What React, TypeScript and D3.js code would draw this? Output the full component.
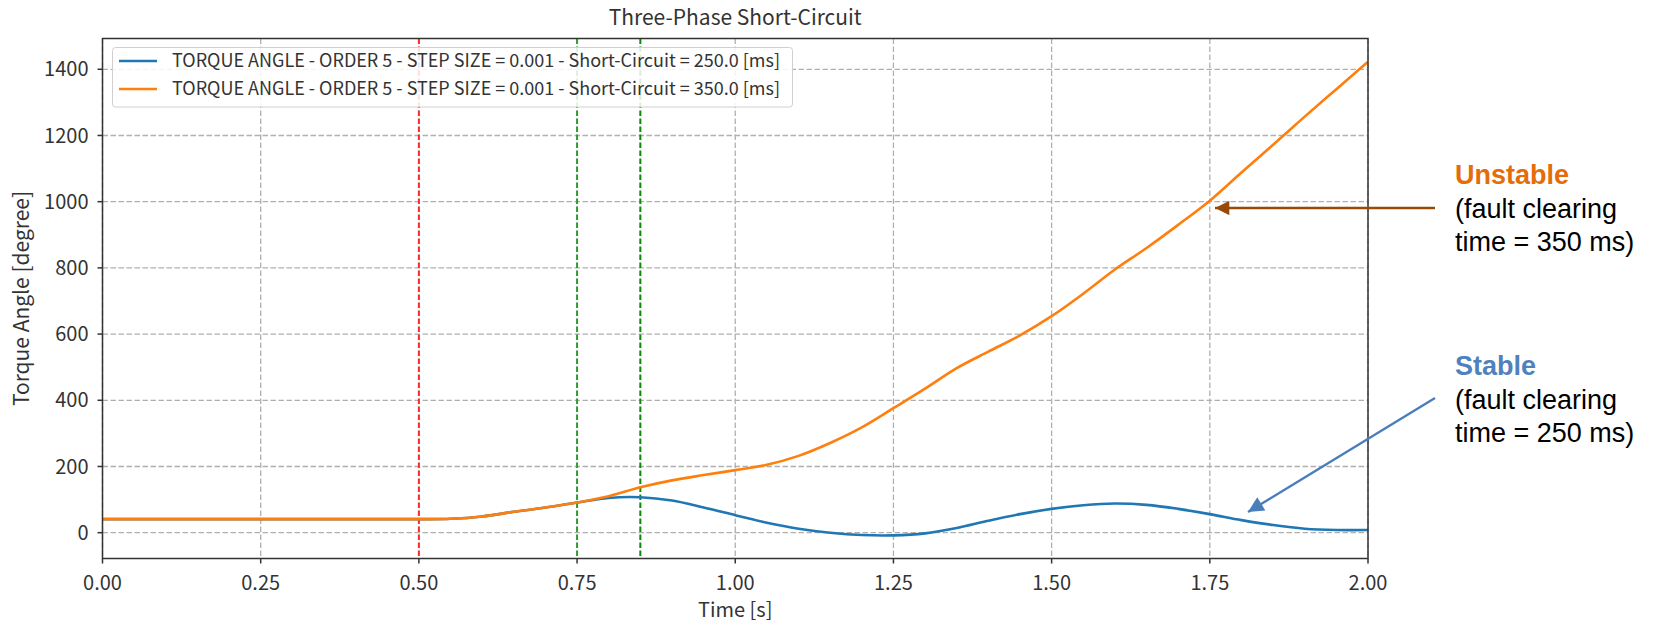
import React from "react";
import * as d3 from "d3";

const timeStable = [0, 0.25, 0.5, 0.55, 0.6, 0.65, 0.7, 0.75, 0.8, 0.85, 0.9, 0.95, 1.0, 1.05, 1.1, 1.15, 1.2, 1.25, 1.3, 1.35, 1.4, 1.45, 1.5, 1.55, 1.6, 1.65, 1.7, 1.75, 1.8, 1.85, 1.9, 1.95, 2.0];
const angleStable = [41, 41, 41, 42, 49, 63, 76, 91, 105, 107, 97, 76, 53, 30, 12, 0, -7, -8, -2, 14, 36, 56, 72, 83, 88, 84, 72, 56, 38, 23, 12, 8, 8];

const timeUnstable = [0, 0.25, 0.5, 0.55, 0.6, 0.65, 0.7, 0.75, 0.8, 0.85, 0.9, 0.95, 1.0, 1.05, 1.1, 1.15, 1.2, 1.25, 1.3, 1.35, 1.4, 1.45, 1.5, 1.55, 1.6, 1.65, 1.7, 1.75, 1.8, 1.85, 1.9, 1.95, 2.0];
const angleUnstable = [41, 41, 41, 42, 49, 63, 76, 91, 110, 137, 158, 174, 189, 205, 232, 271, 318, 376, 435, 497, 547, 596, 654, 722, 795, 860, 930, 1003, 1088, 1172, 1257, 1340, 1423];

const xTicks = [0, 0.25, 0.5, 0.75, 1.0, 1.25, 1.5, 1.75, 2.0];
const yTicks = [0, 200, 400, 600, 800, 1000, 1200, 1400];
const eventLines = [
  { t: 0.5, color: "#ff2a2a" },
  { t: 0.75, color: "#2ca02c" },
  { t: 0.85, color: "#0a8a0a" },
];
const legendLabels = [
  "TORQUE ANGLE - ORDER 5 - STEP SIZE = 0.001 - Short-Circuit = 250.0 [ms]",
  "TORQUE ANGLE - ORDER 5 - STEP SIZE = 0.001 - Short-Circuit = 350.0 [ms]",
];
const seriesColors = ["#1f77b4", "#ff7f0e"];

const W = 1654;
const H = 626;
const L = 102.5;
const R = 1368;
const T = 38.5;
const B = 558.5;
const FONT = "'Noto Sans CJK KR', 'Noto Sans', sans-serif";
const ARIAL = "'Liberation Sans', Arial, sans-serif";

export default function App() {
  const x = d3.scaleLinear().domain([0, 2]).range([L, R]);
  const y = d3.scaleLinear().domain([-78, 1493]).range([B, T]);
  const line = d3
    .line<[number, number]>()
    .x((d) => x(d[0]))
    .y((d) => y(d[1]))
    .curve(d3.curveCatmullRom.alpha(0.5));
  const stable = line(timeStable.map((t, i) => [t, angleStable[i]] as [number, number])) || "";
  const unstable = line(timeUnstable.map((t, i) => [t, angleUnstable[i]] as [number, number])) || "";

  return (
    <svg width={W} height={H} style={{ position: "absolute", left: 0, top: 0, background: "#fff" }}>
      <defs>
        <clipPath id="plot">
          <rect x={L} y={T} width={R - L} height={B - T} />
        </clipPath>
        <marker id="arrBrown" viewBox="0 0 10 10" refX="10" refY="5" markerWidth="7" markerHeight="5.5" orient="auto" markerUnits="strokeWidth">
          <path d="M0,0 L10,5 L0,10 z" fill="#984807" />
        </marker>
        <marker id="arrBlue" viewBox="0 0 10 10" refX="10" refY="5" markerWidth="8" markerHeight="6.5" orient="auto" markerUnits="strokeWidth">
          <path d="M0,0 L10,5 L0,10 z" fill="#4a7ebb" />
        </marker>
      </defs>
      <rect x={0} y={0} width={W} height={H} fill="#fff" />
      <g stroke="#b0b0b0" strokeWidth={1.3} strokeDasharray="5.5,2.5">
        {xTicks.map((t) => (
          <line key={"gx" + t} x1={x(t)} x2={x(t)} y1={T} y2={B} />
        ))}
        {yTicks.map((v) => (
          <line key={"gy" + v} x1={L} x2={R} y1={y(v)} y2={y(v)} />
        ))}
      </g>
      <g strokeWidth={2} strokeDasharray="5.5,2.5">
        {eventLines.map((e) => (
          <line key={"ev" + e.t} x1={x(e.t)} x2={x(e.t)} y1={T} y2={B} stroke={e.color} />
        ))}
      </g>
      <g clipPath="url(#plot)" fill="none" strokeWidth={2.6} strokeLinejoin="round">
        <path d={stable} stroke={seriesColors[0]} />
        <path d={unstable} stroke={seriesColors[1]} />
      </g>
      <rect x={L} y={T} width={R - L} height={B - T} fill="none" stroke="#333" strokeWidth={1.5} />
      <g stroke="#333" strokeWidth={1.5}>
        {xTicks.map((t) => (
          <line key={"tx" + t} x1={x(t)} x2={x(t)} y1={B} y2={B + 5} />
        ))}
        {yTicks.map((v) => (
          <line key={"ty" + v} x1={L - 5} x2={L} y1={y(v)} y2={y(v)} />
        ))}
      </g>
      <g fontFamily={FONT} fontSize={20} fill="#333">
        {xTicks.map((t) => (
          <text key={"lx" + t} x={x(t)} y={590} textAnchor="middle">
            {d3.format(".2f")(t)}
          </text>
        ))}
        {yTicks.map((v) => (
          <text key={"ly" + v} x={L - 14} y={y(v)} dy="0.36em" textAnchor="end">
            {v}
          </text>
        ))}
        <text x={(L + R) / 2} y={617} textAnchor="middle">Time [s]</text>
        <text transform={`translate(29,${(T + B) / 2}) rotate(-90)`} textAnchor="middle" fontSize={21}>Torque Angle [degree]</text>
        <text x={(L + R) / 2} y={25} textAnchor="middle" fontSize={21}>Three-Phase Short-Circuit</text>
      </g>
      <g>
        <rect x={112.5} y={47.5} width={680} height={59.5} rx={3} fill="#fff" fillOpacity={0.85} stroke="#d0d0d0" strokeWidth={1} />
        {legendLabels.map((lab, i) => (
          <g key={lab}>
            <line x1={119} x2={157} y1={61 + i * 28} y2={61 + i * 28} stroke={seriesColors[i]} strokeWidth={2.6} />
            <text x={172} y={61 + i * 28} dy="0.36em" fontFamily={FONT} fontSize={18} fill="#333">
              {lab}
            </text>
          </g>
        ))}
      </g>
      <line x1={1435} y1={208} x2={1215} y2={208} stroke="#984807" strokeWidth={2.6} markerEnd="url(#arrBrown)" />
      <line x1={1435} y1={398} x2={1248} y2={512} stroke="#4a7ebb" strokeWidth={2.4} markerEnd="url(#arrBlue)" />
      <g fontFamily={ARIAL} fontSize={27}>
        <text x={1455} y={184} fill="#e46c0a" fontWeight="bold">Unstable</text>
        <text x={1455} y={218} fill="#000">(fault clearing</text>
        <text x={1455} y={251} fill="#000">time = 350 ms)</text>
        <text x={1455} y={375} fill="#4f81bd" fontWeight="bold">Stable</text>
        <text x={1455} y={409} fill="#000">(fault clearing</text>
        <text x={1455} y={442} fill="#000">time = 250 ms)</text>
      </g>
    </svg>
  );
}
